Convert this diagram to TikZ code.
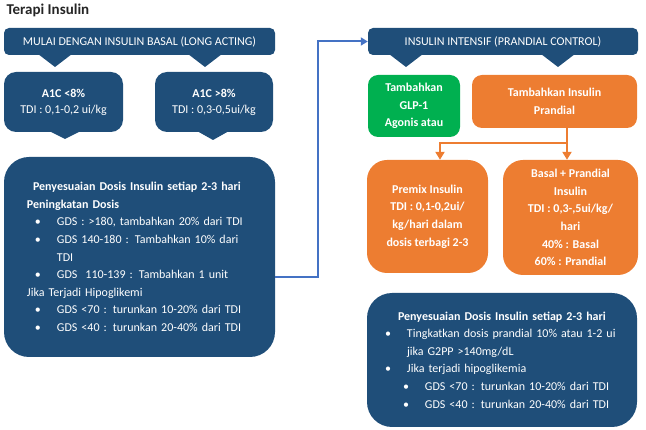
\documentclass[tikz,border=0pt]{standalone}
\usepackage{fontspec}
\setmainfont{Carlito}
\usetikzlibrary{positioning, calc, arrows.meta}
\definecolor{navy}{HTML}{1F4E79}
\definecolor{leaf}{HTML}{00B050}
\definecolor{tangerine}{HTML}{ED7D31}
\definecolor{linkblue}{HTML}{4472C4}
\newcommand{\bul}[1]{\hspace*{8pt}\makebox[22pt][l]{\textbullet}#1}
\newcommand{\subbul}[1]{\hspace*{18pt}\makebox[22pt][l]{\textbullet}#1}
\tikzset{
        box/.style={fill=navy, text=white, inner sep=0pt, font=\fontsize{12}{17.6}\selectfont}, % every coloured box
        headbox/.style={box, rounded corners=5pt, minimum width=271pt, minimum height=27pt},
        levelbox/.style={box, rounded corners=12pt, minimum width=119pt, minimum height=60pt, align=center, font=\fontsize{12}{16}\selectfont},
        dosebox/.style={box, rounded corners=25pt, align=left},
        choicebox/.style={box, fill=tangerine, rounded corners=10pt, align=center, font=\bfseries\fontsize{12}{17.6}\selectfont},
        planbox/.style={choicebox, rounded corners=20pt},
        link/.style={draw=linkblue, line width=2pt, -{Triangle[length=7pt, width=8pt]}},
        split/.style={draw=tangerine, line width=2.2pt, -{Triangle[length=8pt, width=9pt]}},
        }
\begin{document}
\begin{tikzpicture}[x=1pt, y=-1pt]
        \useasboundingbox (0,0) rectangle (646,430);
        % left column
        \node[anchor=west, font=\bfseries\fontsize{15}{17}\selectfont, text=black!85] (title) at (3,10) {Terapi Insulin};
        \node[headbox] (basal) at (139.5,41.5) {MULAI DENGAN INSULIN BASAL (LONG ACTING)};
        \node[levelbox] (low) at (63.5,102) {\textbf{A1C <8\%}\\TDI : 0,1-0,2 ui/kg};
        \node[levelbox, minimum width=118pt] (high) at (214,102) {\textbf{A1C >8\%}\\TDI : 0,3-0,5ui/kg};
        \node[dosebox, text width=225pt, inner xsep=23pt, minimum height=200pt] (doseA) at (139.5,257) {%
          \hspace*{6pt}\textbf{Penyesuaian Dosis Insulin setiap 2-3 hari}\\
          \textbf{Peningkatan Dosis}\\
          \bul{GDS : >180, tambahkan 20\% dari TDI}\\
          \bul{GDS 140-180 : Tambahkan 10\% dari}\\
          \hspace*{30pt}TDI\\
          \bul{GDS\ \ 110-139 : Tambahkan 1 unit}\\
          Jika Terjadi Hipoglikemi\\
          \bul{GDS <70 : turunkan 10-20\% dari TDI}\\
          \bul{GDS <40 : turunkan 20-40\% dari TDI}};
        \foreach \tip in {55,205}
          \fill[navy] (\tip-17,54) -- (\tip,67) -- (\tip+17,54) -- cycle;
        \fill[navy] (49,131) -- (65,139) -- (81,131) -- cycle;
        \fill[navy] (197,131) -- (213,140) -- (229,131) -- cycle;

        % right column
        \node[headbox, minimum width=270pt] (intensif) at (503,41.5) {INSULIN INTENSIF (PRANDIAL CONTROL)};
        \foreach \tip in {406,558}
          \fill[navy] (\tip-17,54) -- (\tip,67) -- (\tip+17,54) -- cycle;
        \node[choicebox, fill=leaf, minimum width=92pt, minimum height=62pt] (glp) at (414,106) {Tambahkan\\GLP-1\\Agonis atau};
        \node[choicebox, minimum width=165pt, minimum height=53pt] (prand) at (554.5,101.5) {Tambahkan Insulin\\Prandial};
        \node[planbox, minimum width=121pt, minimum height=113pt] (premix) at (427.5,216.5) {Premix Insulin\\TDI : 0,1-0,2ui/\\kg/hari dalam\\dosis terbagi 2-3};
        \node[planbox, minimum width=135pt, minimum height=115pt] (basalpr) at (570.5,217.5) {Basal + Prandial\\Insulin\\TDI : 0,3-,5ui/kg/\\hari\\40\% : Basal\\60\% : Prandial};
        \node[dosebox, text width=234pt, inner xsep=18pt, minimum height=134pt] (doseB) at (502,360) {%
          \hspace*{13pt}\textbf{Penyesuaian Dosis Insulin setiap 2-3 hari}\\
          \makebox[22pt][l]{\textbullet}Tingkatkan dosis prandial 10\% atau 1-2 ui\\
          \hspace*{22pt}jika G2PP >140mg/dL\\
          \makebox[22pt][l]{\textbullet}Jika terjadi hipoglikemia\\
          \subbul{GDS <70 : turunkan 10-20\% dari TDI}\\
          \subbul{GDS <40 : turunkan 20-40\% dari TDI}};

        % connectors
        \draw[link] ([yshift=-20pt]doseA.east) -- ++(43,0) |- (intensif.west);
        \coordinate (fork) at (567,143);
        \draw[split] (prand.south -| fork) -- (fork) -- (fork |- basalpr.north);
        \draw[split] (fork) -| ([xshift=12.5pt]premix.north);
\end{tikzpicture}
\end{document}
